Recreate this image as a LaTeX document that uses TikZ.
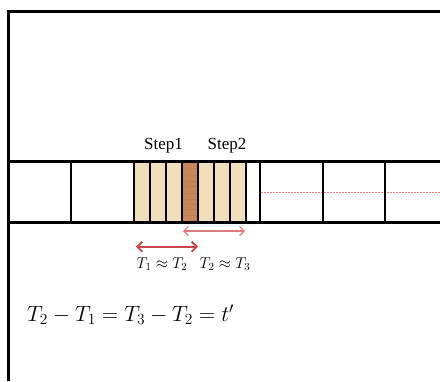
\documentclass[tikz,border=0pt]{standalone}
\usepackage{fontspec}
\setmainfont{Liberation Serif}
\usetikzlibrary{arrows.meta}
\definecolor{tan}{HTML}{F0DFBA}
\definecolor{wood}{HTML}{C6875A}
\definecolor{woodgrain}{HTML}{B5744A}
\definecolor{arrA}{HTML}{C9474A}
\definecolor{arrB}{HTML}{DC7A7C}
\definecolor{dotred}{HTML}{F08080}
\tikzset{
  wall/.style={line width=2.8pt, black},
  cellfill/.style={fill=tan, draw=none},
  darkfill/.style={fill=wood, draw=none},
  grain/.style={woodgrain, line width=0.7pt, opacity=0.7},
  steplbl/.style={font=\fontsize{17}{17}\selectfont, inner sep=0pt},
  tlbl/.style={font=\fontsize{14.4}{14.4}\selectfont, inner sep=0pt, scale=1.085},
  eqlbl/.style={font=\fontsize{20.74}{20.74}\selectfont, inner sep=0pt, anchor=west, scale=1.07},
  dblA/.style={arrA, line width=1.9pt, {Straight Barb[length=5pt,width=10pt]}-{Straight Barb[length=5pt,width=10pt]}},
  dblB/.style={arrB, line width=1.2pt, {Straight Barb[length=4.5pt,width=9pt]}-{Straight Barb[length=4.5pt,width=9pt]}},
}
\begin{document}
\begin{tikzpicture}[x=1pt,y=-1pt]
\useasboundingbox (0,0) rectangle (440,381);
% cell fills
\foreach \a/\b in {134/150,150/166,166/182,198/214,214/230,230/246}
  \fill[cellfill] (\a,162) rectangle (\b,222);
\fill[darkfill] (182,162) rectangle (198,222);
\foreach \yy in {168,175,181,186,193,199,204,209,215}
  \draw[grain] (182,\yy) -- (198,\yy+0.5);
% red dotted line
\draw[dotred, line width=0.8pt, dash pattern=on 2pt off 1pt] (261,192.3) -- (440,192.3);
% frame
\draw[wall] (440,11.7) -- (8.3,11.7) -- (8.3,381);
% strip
\draw[wall] (8.3,161.7) -- (440,161.7);
\draw[wall] (8.3,222.7) -- (440,222.7);
\foreach \xx in {71,134,150,166,182,198,214,230,246,260,323,385}
  \draw[wall] (\xx,161.7) -- (\xx,222.7);
% labels
\node[steplbl] (s1) at (163.5,146) {Step1};
\node[steplbl] (s2) at (227,146) {Step2};
\coordinate (a1l) at (136,246.7);
\coordinate (a1r) at (198,246.7);
\coordinate (a2l) at (183,231);
\coordinate (a2r) at (245,231);
\draw[dblB] (a2l) -- (a2r);
\draw[dblA] (a1l) -- (a1r);
\node[tlbl] (t1) at (162,264) {$T_1\approx T_2$};
\node[tlbl] (t2) at (225,264) {$T_2\approx T_3$};
\node[eqlbl] (eq) at (27,315) {$T_2-T_1=T_3-T_2=t'$};
\end{tikzpicture}
\end{document}
